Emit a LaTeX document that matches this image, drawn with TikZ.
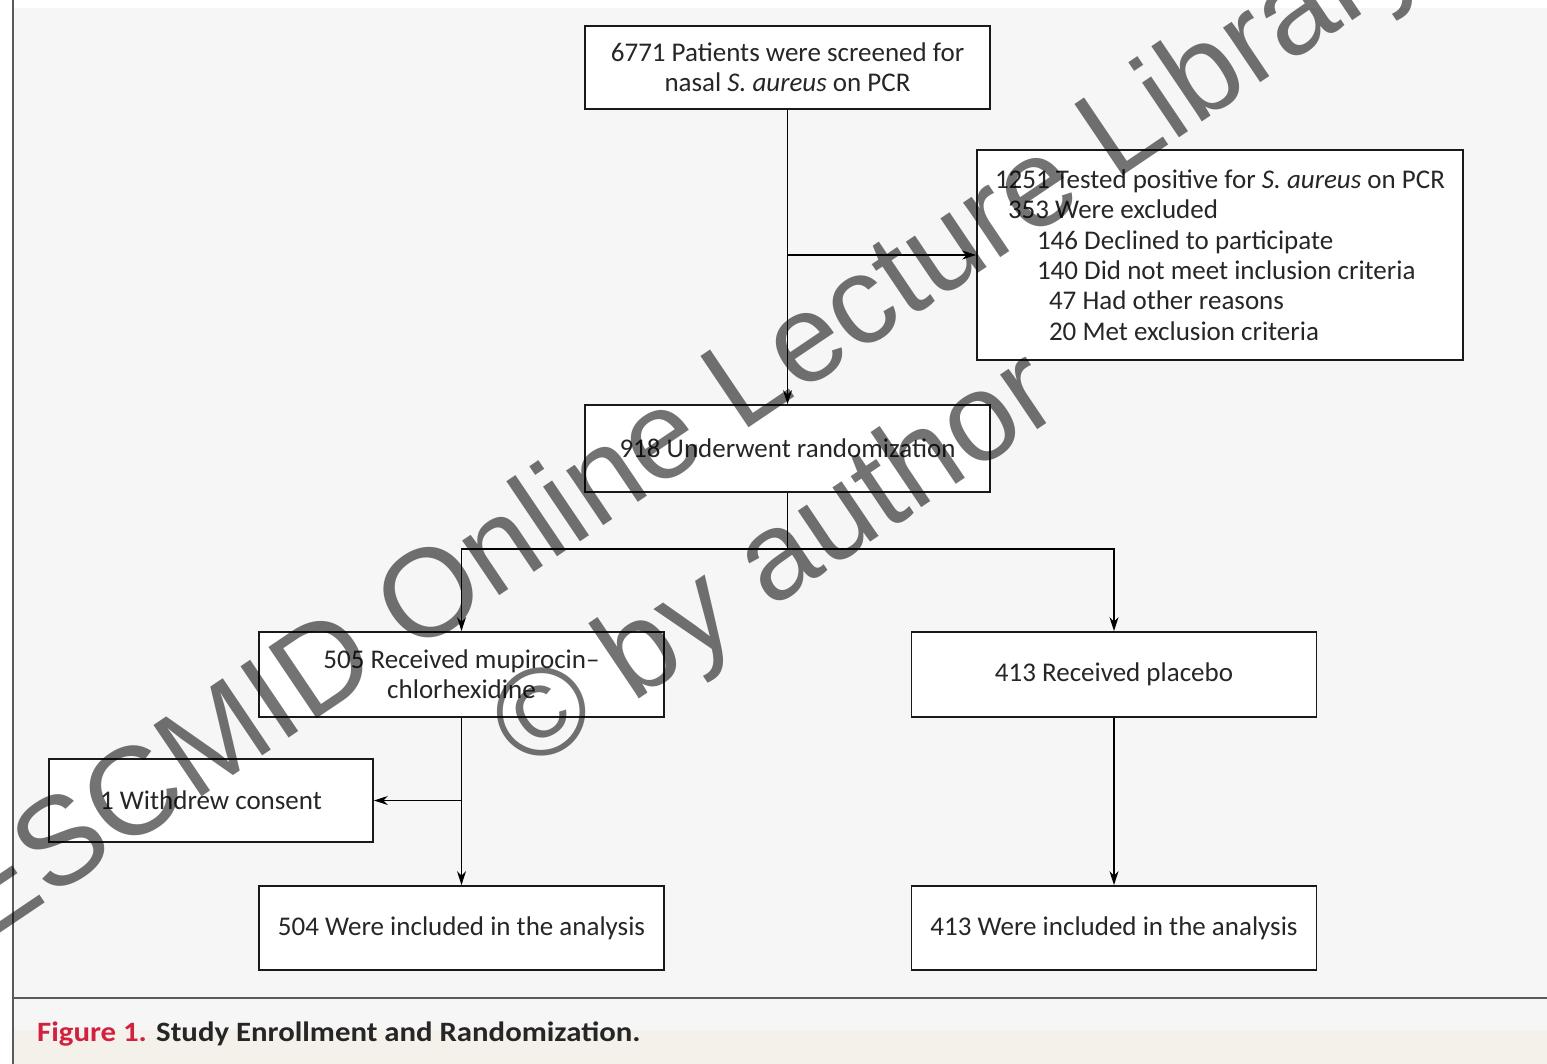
\documentclass[tikz,border=0pt]{standalone}
\usepackage{fontspec}
\setmainfont{Carlito}
\newfontfamily\wmfont{Liberation Sans}
\newfontfamily\capfont[FakeStretch=1.1]{Carlito}
\usetikzlibrary{arrows.meta,calc}
\definecolor{boxtext}{HTML}{262626}
\definecolor{panel}{HTML}{F6F6F6}
\definecolor{capband}{HTML}{F4F1EA}
\definecolor{capred}{HTML}{D2213F}
\definecolor{rule}{HTML}{5A5A5A}
\begin{document}
\begin{tikzpicture}[x=1pt,y=-1pt,
  flowbox/.style={draw=black!90, line width=1.8pt, fill=white, text=boxtext,
    font=\fontsize{27}{30.4}\selectfont, align=center, inner sep=0pt,
    minimum width=405pt, minimum height=85pt},
  link/.style={line width=1.6pt, -{Stealth[length=14pt,width=9pt]}},
  trunk/.style={line width=1.6pt},
  watermark/.style={font=\wmfont\fontsize{125}{165}\selectfont, text=black,
    text opacity=0.55, rotate=34, inner sep=0pt}]
\useasboundingbox (0,0) rectangle (1547,1064);

% page background, panel and caption band
\fill[white] (0,0) rectangle (1547,1064);
\fill[panel] (13,8) rectangle (1547,998);
\fill[panel] (13,998) rectangle (1547,1030);
\fill[capband] (13,1030) rectangle (1547,1064);
\draw[rule, line width=2pt] (13,0) -- (13,1064);
\draw[rule, line width=2.5pt] (13,998) -- (1547,998);

% boxes
\node[flowbox, minimum height=83pt] (screen) at (787.5,67.5)
  {6771 Patients were screened for\\nasal \textit{S. aureus} on PCR};
\node[flowbox, minimum width=486pt, minimum height=210pt, align=left] (pos) at (1220,255)
  {1251 Tested positive for \textit{S. aureus} on PCR\\
   \hspace*{13pt}353 Were excluded\\
   \hspace*{42pt}146 Declined to participate\\
   \hspace*{42pt}140 Did not meet inclusion criteria\\
   \hspace*{54pt}47 Had other reasons\\
   \hspace*{54pt}20 Met exclusion criteria};
\node[flowbox, minimum height=87pt] (rand) at (787.5,448.5) {918 Underwent randomization};
\node[flowbox] (mupi) at (461.5,674.5) {505 Received mupirocin--\\chlorhexidine};
\node[flowbox] (plac) at (1114,674.5) {413 Received placebo};
\node[flowbox, minimum width=324pt, minimum height=83pt] (withdrew) at (211,800.5) {1 Withdrew consent};
\node[flowbox, minimum height=84pt] (incl1) at (461.5,928) {504 Were included in the analysis};
\node[flowbox, minimum height=84pt] (incl2) at (1114,928) {413 Were included in the analysis};

% connectors
\draw[link] (screen) -- (rand);
\coordinate (j1) at (screen.south |- pos.west);
\draw[link] (j1) -- (pos.west);
\coordinate (split) at ($(rand.south)+(0,56)$);
\draw[trunk] (rand.south) -- (split);
\draw[link] (split) -| (mupi.north);
\draw[link] (split) -| (plac.north);
\draw[link] (mupi) -- (incl1);
\coordinate (j2) at (mupi.south |- withdrew.east);
\draw[link] (j2) -- (withdrew.east);
\draw[link] (plac) -- (incl2);

% caption
\node[anchor=base west, inner sep=0pt, text=boxtext,
  font=\capfont\bfseries\fontsize{28}{30}\selectfont] (caption) at (37,1041)
  {\textcolor{capred}{Figure 1.} Study Enrollment and Randomization.};

% watermark
\node[watermark] (wm1) at (688,430) {ESCMID Online Lecture Library};
\node[watermark] (wm2) at (778,566) {© by author};
\end{tikzpicture}
\end{document}
